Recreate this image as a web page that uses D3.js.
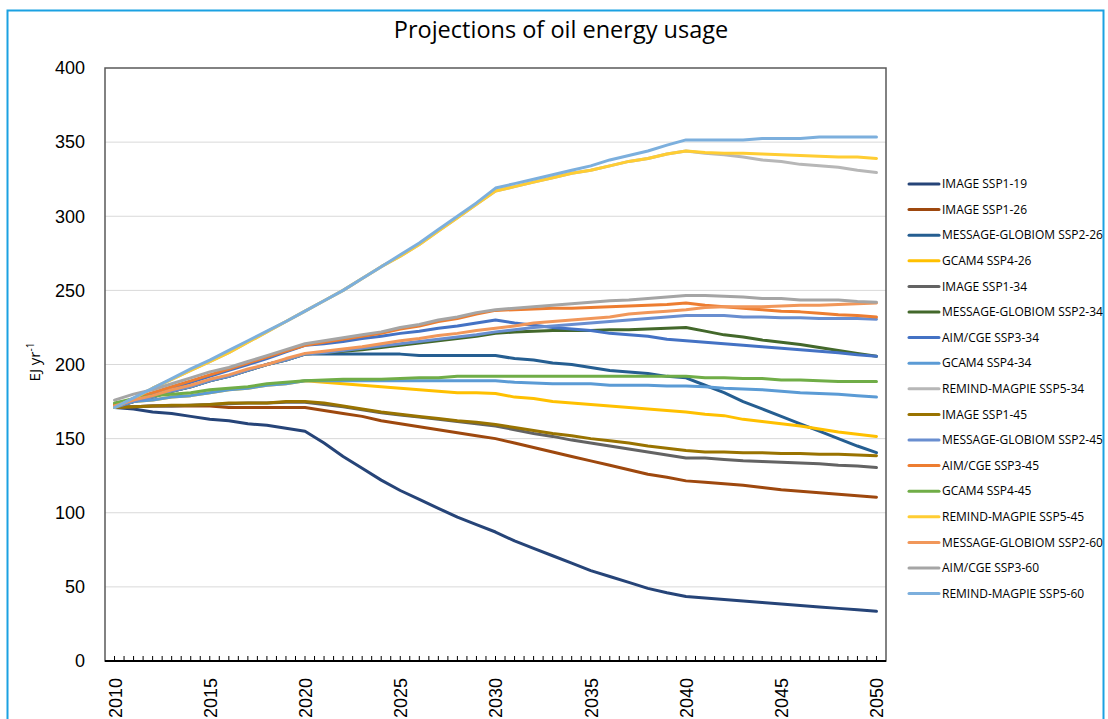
<!DOCTYPE html>
<html>

<head>
    <meta charset="utf-8">
    <style>
        body {
            margin: 0;
            background: white;
        }

        svg {
            font-family: 'Open Sans', 'DejaVu Sans', sans-serif;
        }

        .grid line {
            stroke: #d9d9d9;
            stroke-width: 1;
        }

        .y .tick text,
        .x .tick text {
            font-size: 18px;
            fill: #000;
        }

        .title {
            font-size: 23.5px;
            fill: #000;
        }

        .axis-label {
            font-size: 15px;
        }

        .legend-label {
            font-size: 12px;
            fill: #000;
        }
    </style>
</head>

<body>
    <svg width="1108" height="719"></svg>
</body>

<script src="https://d3js.org/d3.v7.min.js"></script>

<script>

    let years = d3.range(2010, 2051)

    let yTicks = [0, 50, 100, 150, 200, 250, 300, 350, 400]
    let xLabelYears = [2010, 2015, 2020, 2025, 2030, 2035, 2040, 2045, 2050]

    let seriesNames = [
        "IMAGE SSP1-19",
        "IMAGE SSP1-26",
        "MESSAGE-GLOBIOM SSP2-26",
        "GCAM4 SSP4-26",
        "IMAGE SSP1-34",
        "MESSAGE-GLOBIOM SSP2-34",
        "AIM/CGE SSP3-34",
        "GCAM4 SSP4-34",
        "REMIND-MAGPIE SSP5-34",
        "IMAGE SSP1-45",
        "MESSAGE-GLOBIOM SSP2-45",
        "AIM/CGE SSP3-45",
        "GCAM4 SSP4-45",
        "REMIND-MAGPIE SSP5-45",
        "MESSAGE-GLOBIOM SSP2-60",
        "AIM/CGE SSP3-60",
        "REMIND-MAGPIE SSP5-60"
    ]

    let seriesColors = [
        "#264478", // IMAGE SSP1-19
        "#9e480e", // IMAGE SSP1-26
        "#255e91", // MESSAGE-GLOBIOM SSP2-26
        "#ffc000", // GCAM4 SSP4-26
        "#636363", // IMAGE SSP1-34
        "#43682b", // MESSAGE-GLOBIOM SSP2-34
        "#4472c4", // AIM/CGE SSP3-34
        "#5b9bd5", // GCAM4 SSP4-34
        "#b7b7b7", // REMIND-MAGPIE SSP5-34
        "#997300", // IMAGE SSP1-45
        "#698ed0", // MESSAGE-GLOBIOM SSP2-45
        "#ed7d31", // AIM/CGE SSP3-45
        "#70ad47", // GCAM4 SSP4-45
        "#ffcd33", // REMIND-MAGPIE SSP5-45
        "#f1975a", // MESSAGE-GLOBIOM SSP2-60
        "#a5a5a5", // AIM/CGE SSP3-60
        "#7cafdd"  // REMIND-MAGPIE SSP5-60
    ]

    // EJ/yr, 2010 -> 2050, one value per year
    let imageSsp119 = [171, 170, 168, 167, 165, 163, 162, 160, 159, 157, 155,
        147, 138, 130, 122, 115, 109, 103, 97, 92, 87,
        81, 76, 71, 66, 61, 57, 53, 49, 46, 43.5,
        42.5, 41.5, 40.5, 39.5, 38.5, 37.5, 36.5, 35.5, 34.5, 33.5]
    let imageSsp126 = [171, 171.5, 172, 172, 172, 172, 171, 171, 171, 171, 171,
        169, 167, 165, 162, 160, 158, 156, 154, 152, 150,
        147, 144, 141, 138, 135, 132, 129, 126, 124, 121.5,
        120.5, 119.5, 118.5, 117, 115.5, 114.5, 113.5, 112.5, 111.5, 110.5]
    let messageSsp226 = [171, 175, 178, 182, 185, 189, 192, 196, 200, 203, 207,
        207, 207, 207, 207, 207, 206, 206, 206, 206, 206,
        204, 203, 201, 200, 198, 196, 195, 194, 192, 191,
        186, 181, 175, 170, 165, 160, 155, 150, 145, 140.5]
    let gcamSsp426 = [173, 175, 176, 178, 179, 181, 183, 184, 186, 187, 189,
        188, 187, 186, 185, 184, 183, 182, 181, 181, 180.5,
        178, 177, 175, 174, 173, 172, 171, 170, 169, 168,
        166.5, 165.5, 163, 161.5, 160, 158.5, 156.5, 154.5, 153, 151.5]
    let imageSsp134 = [171, 171.5, 172, 172, 172.5, 173, 173.5, 174, 174, 174.5, 174.5,
        173, 171.5, 169.5, 167.5, 166, 164.5, 163, 161.5, 160, 158.5,
        156, 153.5, 151.5, 149, 147, 145, 143, 141, 139, 137,
        137, 136, 135, 134.5, 134, 133.5, 133, 132, 131.5, 130.5]
    let messageSsp234 = [171, 175, 178, 182, 185, 189, 192, 196, 200, 203, 207,
        208, 209, 210, 211.5, 213, 214.5, 216, 217.5, 219, 221,
        222, 222.5, 223, 223, 223, 223.5, 223.5, 224, 224.5, 225,
        222.5, 220, 218.5, 216.5, 215, 213.5, 211.5, 209.5, 207.5, 205.5]
    let aimSsp334 = [172, 176, 180, 184, 188, 192, 196, 200, 204, 208.5, 213,
        214, 215.5, 217.5, 219, 221, 222.5, 224.5, 226, 228, 230,
        228, 226.5, 225, 224, 223, 221, 220, 219, 217, 216,
        215, 214, 213, 212, 211, 210, 209, 208, 206.5, 205.5]
    let gcamSsp434 = [173, 175, 176, 178, 179, 181, 183, 184, 186, 187, 189,
        189, 189, 189, 189, 189, 189, 189, 189, 189, 189,
        188, 187.5, 187, 187, 187, 186, 186, 186, 185.5, 185.5,
        185, 184, 183.5, 183, 182, 181, 180.5, 180, 179, 178]
    let remindSsp534 = [171, 177, 184, 190, 196, 202, 208, 215, 222, 229, 236,
        243, 250, 258, 266, 273, 281, 290, 299, 308, 317,
        320, 323, 326, 329, 331, 334, 337, 339, 342, 344,
        342.5, 341.5, 340, 338, 337, 335, 334, 333, 331, 329.5]
    let imageSsp145 = [171, 171.5, 172, 172.5, 172.5, 173, 174, 174, 174, 175, 175,
        174, 172, 170, 168, 166.5, 165, 163.5, 162, 161, 159.5,
        157.5, 155.5, 153.5, 152, 150, 148.5, 147, 145, 143.5, 142,
        141, 141, 140.5, 140.5, 140, 140, 139.5, 139.5, 139, 138.5]
    let messageSsp245 = [171, 175, 178, 182, 185, 189, 192, 196, 200, 203, 207,
        208, 209.5, 211, 212.5, 214, 215.5, 217, 218.5, 220, 222,
        223.5, 225, 226, 227, 228, 229, 230, 231, 232, 233,
        233, 233, 232, 232, 231.5, 231.5, 231, 231, 231, 230.5]
    let aimSsp345 = [173, 177, 181, 185, 189, 193, 197, 201, 205, 209, 213,
        215, 217, 219, 221, 224, 226, 229, 231, 234, 236.5,
        237, 237.5, 238, 238, 238.5, 239, 239.5, 240, 240.5, 241.5,
        240, 239, 238, 237, 236, 235.5, 234.5, 233.5, 233, 232]
    let gcamSsp445 = [174, 177, 179, 180, 181, 183, 184, 185, 187, 188, 189,
        189.5, 190, 190, 190, 190.5, 191, 191, 192, 192, 192,
        192, 192, 192, 192, 192, 192, 192, 192, 192, 192,
        191, 191, 190.5, 190.5, 189.5, 189.5, 189, 188.5, 188.5, 188.5]
    let remindSsp545 = [171, 177, 184, 190, 196, 202, 208, 215, 222, 229, 236,
        243, 250, 258, 266, 273, 281, 290, 299, 308, 317,
        320, 323, 326, 329, 331, 334, 337, 339, 342, 344,
        343, 342.5, 342.5, 342, 341.5, 341, 340.5, 340, 340, 339]
    let messageSsp260 = [172, 176, 179, 183, 186, 190, 193, 197, 200, 204, 207.5,
        209, 210.5, 212, 214, 216, 217.5, 219.5, 221, 223, 224.5,
        226, 228, 229, 230, 231, 232, 234, 235, 236, 237,
        238.5, 239, 239, 239, 239.5, 240, 240, 240.5, 241, 241.5]
    let aimSsp360 = [176, 180, 183, 187, 191, 195, 198, 202, 206, 210, 214,
        216, 218, 220, 222, 225, 227, 230, 232, 235, 237,
        238, 239, 240, 241, 242, 243, 243.5, 244.5, 245.5, 246.5,
        246.5, 246, 245.5, 244.5, 244.5, 243.5, 243.5, 243.5, 242.5, 242]
    let remindSsp560 = [171, 177.5, 184, 190.5, 197, 203, 209.5, 216, 222.5, 229, 236,
        243, 250, 258, 266, 274, 282, 291, 300, 309, 319,
        322, 325, 328, 331, 334, 338, 341, 344, 348, 351.5,
        351.5, 351.5, 351.5, 352.5, 352.5, 352.5, 353.5, 353.5, 353.5, 353.5]

    let seriesValues = [imageSsp119, imageSsp126, messageSsp226, gcamSsp426,
        imageSsp134, messageSsp234, aimSsp334, gcamSsp434, remindSsp534,
        imageSsp145, messageSsp245, aimSsp345, gcamSsp445, remindSsp545,
        messageSsp260, aimSsp360, remindSsp560]

    let series = seriesNames.map((name, i) => ({
        name: name,
        color: seriesColors[i],
        values: seriesValues[i].map((v, j) => ({ year: years[j], value: v }))
    }))

    let svg = d3.select("svg")

    let margin = { top: 68, right: 222, bottom: 58, left: 105 }
    let plotRight = 1108 - margin.right
    let plotBottom = 719 - margin.bottom

    let x = d3.scalePoint().domain(years).range([margin.left, plotRight]).padding(0.5)
    let y = d3.scaleLinear().domain([0, 400]).range([plotBottom, margin.top])

    // outer chart border
    svg.append("rect")
        .attr("x", 7.5)
        .attr("y", 10.5)
        .attr("width", 1096)
        .attr("height", 740)
        .attr("fill", "white")
        .attr("stroke", "#1ba1e2")
        .attr("stroke-width", 2)

    svg.append("text")
        .attr("class", "title")
        .attr("x", 561)
        .attr("y", 38)
        .attr("text-anchor", "middle")
        .text("Projections of oil energy usage")

    // gridlines
    svg.append("g")
        .attr("class", "grid")
        .selectAll("line")
        .data(yTicks.filter(d => d > 0 && d < 400))
        .join("line")
        .attr("x1", margin.left)
        .attr("x2", plotRight)
        .attr("y1", d => y(d))
        .attr("y2", d => y(d))

    // plot frame
    svg.append("rect")
        .attr("x", margin.left)
        .attr("y", margin.top)
        .attr("width", plotRight - margin.left)
        .attr("height", plotBottom - margin.top)
        .attr("fill", "none")
        .attr("stroke", "#595959")
        .attr("stroke-width", 1.5)

    let yAxis = svg.append("g")
        .attr("class", "y axis")
        .attr("transform", `translate(${margin.left}, 0)`)
        .call(d3.axisLeft(y).tickValues(yTicks).tickSize(0).tickPadding(20))
        .call(g => g.select(".domain").remove())

    let xAxis = svg.append("g")
        .attr("class", "x axis")
        .attr("transform", `translate(0, ${plotBottom})`)
        .call(d3.axisBottom(x).tickValues(xLabelYears).tickSize(0).tickFormat(d3.format("d")))
        .call(g => g.select(".domain").remove())

    xAxis.selectAll(".tick text")
        .attr("transform", "rotate(-90)")
        .attr("text-anchor", "end")
        .attr("x", -17)
        .attr("y", 0)
        .attr("dy", "0.36em")

    // small tick marks along the category axis, at each year and halfway between
    let halfSteps = d3.range(0, years.length * 2 - 1).map(k => x(years[0]) + k * x.step() / 2)
    svg.append("g")
        .selectAll("line")
        .data(halfSteps)
        .join("line")
        .attr("x1", d => d)
        .attr("x2", d => d)
        .attr("y1", plotBottom)
        .attr("y2", plotBottom - 5)
        .attr("stroke", "#000")
        .attr("stroke-width", 1)

    svg.append("line")
        .attr("x1", margin.left)
        .attr("x2", plotRight)
        .attr("y1", plotBottom)
        .attr("y2", plotBottom)
        .attr("stroke", "#000")
        .attr("stroke-width", 2)

    svg.append("text")
        .attr("class", "axis-label")
        .attr("transform", `translate(40, 362) rotate(-90)`)
        .attr("text-anchor", "middle")
        .html("EJ yr<tspan dy='-6' font-size='10px'>-1</tspan>")

    let line = d3.line()
        .x(d => x(d.year))
        .y(d => y(d.value))

    svg.append("g")
        .selectAll("path")
        .data(series)
        .join("path")
        .attr("fill", "none")
        .attr("stroke", d => d.color)
        .attr("stroke-width", 3)
        .attr("stroke-linejoin", "round")
        .attr("stroke-linecap", "round")
        .attr("d", d => line(d.values))

    // legend
    let legend = svg.append("g")
        .selectAll("g")
        .data(series)
        .join("g")
        .attr("transform", (d, i) => `translate(909, ${184 + i * 25.6})`)

    legend.append("line")
        .attr("x1", 0)
        .attr("x2", 30)
        .attr("stroke", d => d.color)
        .attr("stroke-width", 3)
        .attr("stroke-linecap", "round")

    legend.append("text")
        .attr("class", "legend-label")
        .attr("x", 33)
        .attr("dy", "0.35em")
        .text(d => d.name)

</script>

</html>
